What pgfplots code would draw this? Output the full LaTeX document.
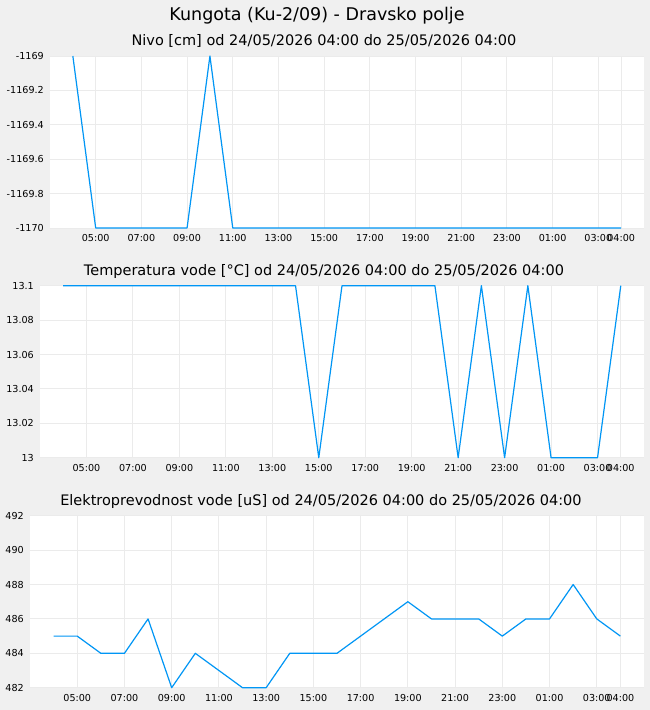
\documentclass[border=0pt]{standalone}
\usepackage{fontspec}
\setmainfont{DejaVu Sans}
\usepackage{pgfplots}
\pgfplotsset{compat=1.18}
\definecolor{bg}{HTML}{F0F0F0}
\definecolor{grd}{HTML}{EBEBEB}
\definecolor{ln}{RGB}{0,150,245}
\pgfplotsset{
  panel/.style={
    scale only axis, height=172pt,
    xmin=-1, xmax=25,
    axis line style={draw=none},
    axis background/.style={fill=white},
    major tick length=0pt,
    xmajorgrids, ymajorgrids,
    major grid style={grd, line width=1pt},
    xtick={1,3,5,7,9,11,13,15,17,19,21,23,24},
    xticklabels={05:00,07:00,09:00,11:00,13:00,15:00,17:00,19:00,21:00,23:00,01:00,03:00,04:00},
    tick label style={font=\fontsize{9.6}{11}\selectfont, inner sep=0pt},
    xticklabel style={anchor=north, yshift=-6pt},
    yticklabel style={anchor=east, xshift=-6pt},
    clip=false,
    anchor=north west,
  },
  dline/.style={ln, line width=1.2pt, line join=round},
}
\begin{document}
\begin{tikzpicture}
\fill[bg] (0,0) rectangle (650pt,-710pt);
\node[anchor=base, font=\fontsize{17.5}{20}\selectfont] at (317pt,-20pt) {Kungota (Ku-2/09) - Dravsko polje};
\node[anchor=base, font=\fontsize{14.5}{17}\selectfont] at (324pt,-45pt) {Nivo [cm] od 24/05/2026 04:00 do 25/05/2026 04:00};
\node[anchor=base, font=\fontsize{14.5}{17}\selectfont] at (324pt,-275.7pt) {Temperatura vode [°C] od 24/05/2026 04:00 do 25/05/2026 04:00};
\node[anchor=base, font=\fontsize{14.5}{17}\selectfont] at (321pt,-505.7pt) {Elektroprevodnost vode [uS] od 24/05/2026 04:00 do 25/05/2026 04:00};

\begin{axis}[panel, at={(50pt,-56pt)}, width=594pt,
  ymin=-1170, ymax=-1169,
  ytick={-1170,-1169.8,-1169.6,-1169.4,-1169.2,-1169},
  yticklabels={-1170,-1169.8,-1169.6,-1169.4,-1169.2,-1169}]
\addplot[dline] coordinates {
(0,-1169) (1,-1170) (2,-1170) (3,-1170) (4,-1170) (5,-1170) (6,-1169) (7,-1170)
(8,-1170) (9,-1170) (10,-1170) (11,-1170) (12,-1170) (13,-1170) (14,-1170) (15,-1170)
(16,-1170) (17,-1170) (18,-1170) (19,-1170) (20,-1170) (21,-1170) (22,-1170) (23,-1170) (24,-1170)};
\end{axis}

\begin{axis}[panel, at={(40pt,-285.7pt)}, width=604pt,
  ymin=13, ymax=13.1,
  ytick={13,13.02,13.04,13.06,13.08,13.1},
  yticklabels={13,13.02,13.04,13.06,13.08,13.1}]
\addplot[dline] coordinates {
(0,13.1) (1,13.1) (2,13.1) (3,13.1) (4,13.1) (5,13.1) (6,13.1) (7,13.1) (8,13.1) (9,13.1)
(10,13.1) (11,13.0) (12,13.1) (13,13.1) (14,13.1) (15,13.1) (16,13.1) (17,13.0) (18,13.1)
(19,13.0) (20,13.1) (21,13.0) (22,13.0) (23,13.0) (24,13.1)};
\end{axis}

\begin{axis}[panel, at={(30pt,-515.7pt)}, width=614pt,
  ymin=482, ymax=492,
  ytick={482,484,486,488,490,492},
  yticklabels={482,484,486,488,490,492}]
\addplot[dline] coordinates {
(0,485) (1,485) (2,484) (3,484) (4,486) (5,482) (6,484) (7,483) (8,482) (9,482)
(10,484) (11,484) (12,484) (13,485) (14,486) (15,487) (16,486) (17,486) (18,486)
(19,485) (20,486) (21,486) (22,488) (23,486) (24,485)};
\end{axis}
\end{tikzpicture}
\end{document}
